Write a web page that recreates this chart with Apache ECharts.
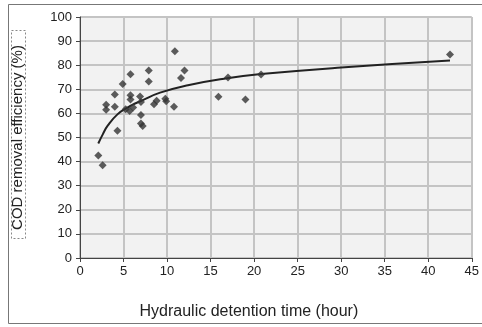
<!DOCTYPE html>
<html>
<head>
<meta charset="utf-8">
<script src="https://cdn.jsdelivr.net/npm/echarts@6/dist/echarts.min.js"></script>
<style>
  html, body { margin: 0; padding: 0; background: #fff; }
  #main { width: 482px; height: 327px; }
</style>
</head>
<body>
<div id="main"></div>
<script>
// measured points (hour, %)
var measured = [
  [2.1, 42.5], [2.6, 38.5], [3.0, 63.6], [3.0, 61.5], [4.0, 67.8], [4.0, 62.8],
  [4.3, 52.8], [4.9, 72.2], [5.25, 61.7], [5.7, 61.0], [5.8, 76.2], [5.8, 67.5],
  [5.8, 65.8], [6.1, 62.5], [6.9, 67.0], [7.0, 64.7], [7.0, 59.3], [7.0, 55.8],
  [7.2, 54.8], [7.9, 77.8], [7.9, 73.2], [8.5, 63.8], [8.8, 65.2], [9.8, 66.1],
  [9.9, 65.0], [10.8, 62.8], [10.9, 85.8], [11.6, 74.7], [12.0, 77.8], [15.9, 66.9],
  [17.0, 74.9], [19.0, 65.8], [20.8, 76.1], [42.5, 84.4]
];
// trend curve
var trend = [
  [2.1, 47.5], [2.6, 51.2], [3.2, 55.0], [4.3, 59.6], [5.4, 62.3], [6.2, 63.9],
  [7.1, 65.3], [9.2, 68.6], [12.4, 71.7], [16.9, 74.6], [20.8, 76.3], [30, 79.0],
  [42.5, 81.9]
];
var xTicks = [0, 5, 10, 15, 20, 25, 30, 35, 40, 45];
var yTicks = [0, 10, 20, 30, 40, 50, 60, 70, 80, 90, 100];

var myChart = echarts.init(document.getElementById('main'));
var font = 'Liberation Sans, Arial, sans-serif';
var option = {
  backgroundColor: '#fff',
  animation: false,
  grid: {
    left: 80, top: 17, right: 2, bottom: 69,
    show: true, backgroundColor: '#f2f2f2', borderWidth: 0
  },
  graphic: [{
    type: 'rect',
    shape: { x: 8.5, y: 4.5, width: 480, height: 319 },
    style: { fill: 'none', stroke: '#777', lineWidth: 1 },
    z: -1
  }, {
    type: 'rect',
    shape: { x: 11.5, y: 30.5, width: 14, height: 208 },
    style: { fill: 'none', stroke: '#888', lineWidth: 1, lineDash: [2, 2] }
  }],
  xAxis: {
    type: 'value',
    min: xTicks[0], max: xTicks[xTicks.length - 1], interval: 5,
    name: 'Hydraulic detention time (hour)',
    nameLocation: 'middle', nameGap: 46,
    nameTextStyle: { fontFamily: font, fontSize: 16, color: '#222', padding: [0, 54, 0, 0] },
    axisLine: { show: true, lineStyle: { color: '#444', width: 1 } },
    axisTick: { show: true, length: 4, lineStyle: { color: '#444' } },
    axisLabel: { fontFamily: font, fontSize: 13, color: '#222', margin: 7 },
    splitLine: { show: true, lineStyle: { color: '#c4c4c4', width: 2 } }
  },
  yAxis: {
    type: 'value',
    min: yTicks[0], max: yTicks[yTicks.length - 1], interval: 10,
    name: 'COD removal efficiency (%)',
    nameLocation: 'middle', nameGap: 55,
    nameTextStyle: { fontFamily: font, fontSize: 15, color: '#222' },
    axisLine: { show: true, lineStyle: { color: '#444', width: 1 } },
    axisTick: { show: true, inside: false, length: 4, lineStyle: { color: '#444' } },
    axisLabel: { fontFamily: font, fontSize: 13, color: '#222', margin: 8 },
    splitLine: { show: true, lineStyle: { color: '#c4c4c4', width: 2 } }
  },
  series: [{
    name: 'trend',
    type: 'line',
    data: trend,
    smooth: true,
    symbol: 'none',
    lineStyle: { color: '#222', width: 2 },
    z: 2
  }, {
    name: 'measured',
    type: 'scatter',
    data: measured,
    symbol: 'diamond',
    symbolSize: 8,
    itemStyle: { color: '#333' },
    z: 3
  }]
};
myChart.setOption(option);
</script>
</body>
</html>
